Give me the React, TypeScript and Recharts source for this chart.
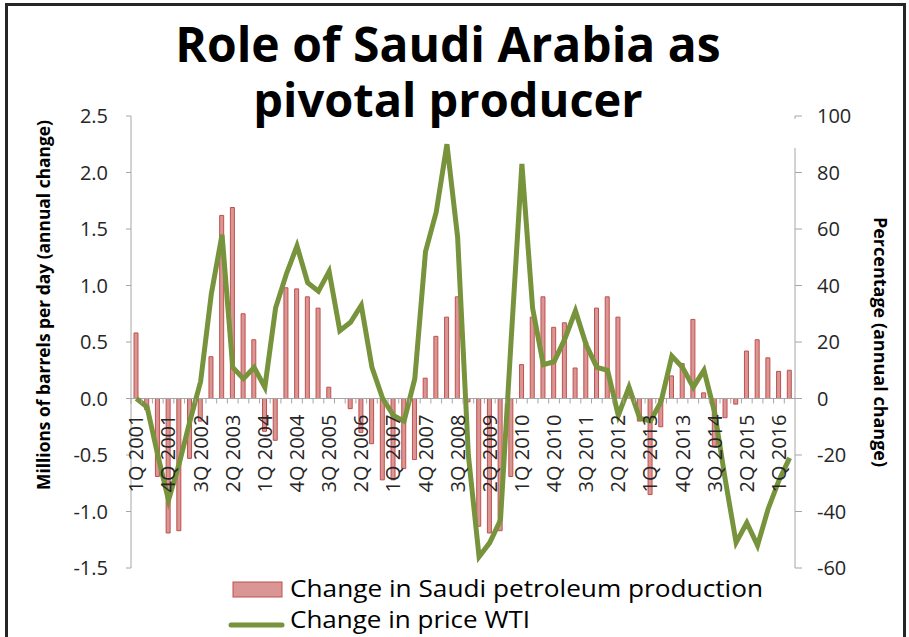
import { Bar, ComposedChart, Line, ReferenceLine, XAxis, YAxis } from 'recharts';

const quarters = [
  '1Q 2001', '2Q 2001', '3Q 2001', '4Q 2001',
  '1Q 2002', '2Q 2002', '3Q 2002', '4Q 2002',
  '1Q 2003', '2Q 2003', '3Q 2003', '4Q 2003',
  '1Q 2004', '2Q 2004', '3Q 2004', '4Q 2004',
  '1Q 2005', '2Q 2005', '3Q 2005', '4Q 2005',
  '1Q 2006', '2Q 2006', '3Q 2006', '4Q 2006',
  '1Q 2007', '2Q 2007', '3Q 2007', '4Q 2007',
  '1Q 2008', '2Q 2008', '3Q 2008', '4Q 2008',
  '1Q 2009', '2Q 2009', '3Q 2009', '4Q 2009',
  '1Q 2010', '2Q 2010', '3Q 2010', '4Q 2010',
  '1Q 2011', '2Q 2011', '3Q 2011', '4Q 2011',
  '1Q 2012', '2Q 2012', '3Q 2012', '4Q 2012',
  '1Q 2013', '2Q 2013', '3Q 2013', '4Q 2013',
  '1Q 2014', '2Q 2014', '3Q 2014', '4Q 2014',
  '1Q 2015', '2Q 2015', '3Q 2015', '4Q 2015',
  '1Q 2016', '2Q 2016',
];

// millions of barrels per day, annual change
const saudiProduction = [
  0.58, -0.1, -0.69, -1.19, -1.17, -0.53, -0.2, 0.37, 1.62, 1.69, 0.75, 0.52,
  -0.29, -0.37, 0.98, 0.97, 0.9, 0.8, 0.1, 0, -0.09, -0.3, -0.4, -0.72,
  -0.72, -0.62, -0.54, 0.18, 0.55, 0.72, 0.9, -0.03, -1.13, -1.19, -1.17, -0.69,
  0.3, 0.72, 0.9, 0.63, 0.67, 0.27, 0.5, 0.8, 0.9, 0.72, 0.1, -0.2,
  -0.85, -0.25, 0.2, 0.31, 0.7, 0.05, -0.42, -0.17, -0.05, 0.42, 0.52, 0.36,
  0.24, 0.25,
];

// percentage, annual change
const wtiPrice = [
  0, -3, -20, -36, -23, -8, 6, 37, 58, 11, 7, 11,
  4, 32, 44, 54, 41, 38, 45, 24, 27, 33, 11, 0,
  -6, -8, 7, 52, 66, 90, 57, -20, -56, -51, -43, 21,
  83, 32, 12, 13, 21, 31, 19, 11, 10, -6, 4, -7,
  -8, -1, 15, 11, 4, 10, -5, -29, -51, -44, -52, -39,
  -29, -21,
];

const leftTicks = [-1.5, -1, -0.5, 0, 0.5, 1, 1.5, 2, 2.5];
const rightTicks = [-60, -40, -20, 0, 20, 40, 60, 80, 100];

const data = quarters.map((q, i) => ({
  quarter: q,
  production: saudiProduction[i],
  wti: wtiPrice[i],
}));

const W = 909;
const H = 637;
const PLOT_LEFT = 131;
const PLOT_RIGHT = 795;
const PLOT_TOP = 116;
const PLOT_BOTTOM = 568;
const BAND = (PLOT_RIGHT - PLOT_LEFT) / quarters.length;
const ZERO_Y = PLOT_TOP + (PLOT_BOTTOM - PLOT_TOP) * (2.5 / 4);

const FONT = "'Open Sans', sans-serif";
const BAR_FILL = '#d99694';
const BAR_STROKE = '#c0504d';
const LINE_COLOR = '#77933c';
const AXIS_COLOR = '#a6a6a6';
const TEXT_COLOR = '#262626';

function QuarterTick(props: any) {
  const { x, index, payload } = props;
  return (
    <g>
      <line x1={x - BAND / 2} x2={x - BAND / 2} y1={ZERO_Y} y2={ZERO_Y + 5} stroke={AXIS_COLOR} />
      {index % 3 === 0 && (
        <text
          transform={`translate(${x},${ZERO_Y + 16}) rotate(-90)`}
          textAnchor="end"
          dy="0.35em"
          fontSize={20}
          fontFamily={FONT}
          fill={TEXT_COLOR}
        >
          {payload.value}
        </text>
      )}
    </g>
  );
}

export default function App() {
  return (
    <div style={{ position: 'absolute', left: 0, top: 0, width: W, height: H, overflow: 'hidden', background: '#fff' }}>
      <div
        style={{
          position: 'absolute',
          left: 5,
          top: 3,
          width: 901,
          height: 700,
          border: '3px solid #262626',
          boxSizing: 'border-box',
        }}
      />
      <div style={{ position: 'absolute', left: 0, top: 0 }}>
        <ComposedChart
          width={W}
          height={H}
          data={data}
          margin={{ top: PLOT_TOP, right: 0, bottom: H - PLOT_BOTTOM - 1, left: 0 }}
        >
          <XAxis
            dataKey="quarter"
            interval={0}
            height={1}
            axisLine={false}
            tickLine={false}
            tick={(p: any) => <QuarterTick {...p} />}
          />
          <YAxis
            yAxisId="left"
            width={PLOT_LEFT}
            domain={[-1.5, 2.5]}
            ticks={leftTicks}
            tickFormatter={(v: number) => v.toFixed(1)}
            stroke={AXIS_COLOR}
            tickSize={5}
            tickMargin={18}
            tick={{ fontSize: 20, fontFamily: FONT, fill: TEXT_COLOR }}
          />
          <YAxis
            yAxisId="right"
            orientation="right"
            width={W - PLOT_RIGHT}
            domain={[-60, 100]}
            ticks={rightTicks}
            stroke={AXIS_COLOR}
            tickSize={7}
            tickMargin={15}
            tick={{ fontSize: 20, fontFamily: FONT, fill: TEXT_COLOR }}
          />
          <ReferenceLine yAxisId="left" y={0} stroke={AXIS_COLOR} />
          <Bar
            yAxisId="left"
            dataKey="production"
            fill={BAR_FILL}
            stroke={BAR_STROKE}
            strokeWidth={1}
            barSize={4}
            isAnimationActive={false}
          />
          <Line
            yAxisId="right"
            type="linear"
            dataKey="wti"
            stroke={LINE_COLOR}
            strokeWidth={5}
            dot={false}
            isAnimationActive={false}
          />
        </ComposedChart>
      </div>
      <svg width={W} height={H} style={{ position: 'absolute', left: 0, top: 0, pointerEvents: 'none' }}>
        {/* the title box hides the top of the right axis line */}
        <rect x={792} y={119} width={6} height={29} fill="#fff" />
        <g fontFamily={FONT} fontWeight={700} fill="#000">
          <text x={448} y={62} textAnchor="middle" fontSize={48}>Role of Saudi Arabia as</text>
          <text x={448} y={117} textAnchor="middle" fontSize={47}>pivotal producer</text>
        </g>
        <text
          transform="translate(44,305) rotate(-90)"
          textAnchor="middle"
          dy="0.35em"
          fontFamily={FONT}
          fontWeight={700}
          fontSize={17.4}
          fill="#000"
        >
          Millions of barrels per day (annual change)
        </text>
        <text
          transform="translate(880,342) rotate(90)"
          textAnchor="middle"
          dy="0.35em"
          fontFamily={FONT}
          fontWeight={700}
          fontSize={18}
          fill="#000"
        >
          Percentage (annual change)
        </text>
        <g fontFamily={FONT} fontSize={24} fill="#000">
          <rect x={233} y={582} width={49} height={15} fill={BAR_FILL} stroke={BAR_STROKE} />
          <text x={290} y={597} textLength={473} lengthAdjust="spacingAndGlyphs">
            Change in Saudi petroleum production
          </text>
          <line x1={231} x2={282} y1={625} y2={625} stroke={LINE_COLOR} strokeWidth={5} strokeLinecap="round" />
          <text x={290} y={628} textLength={240} lengthAdjust="spacingAndGlyphs">
            Change in price WTI
          </text>
        </g>
      </svg>
    </div>
  );
}
